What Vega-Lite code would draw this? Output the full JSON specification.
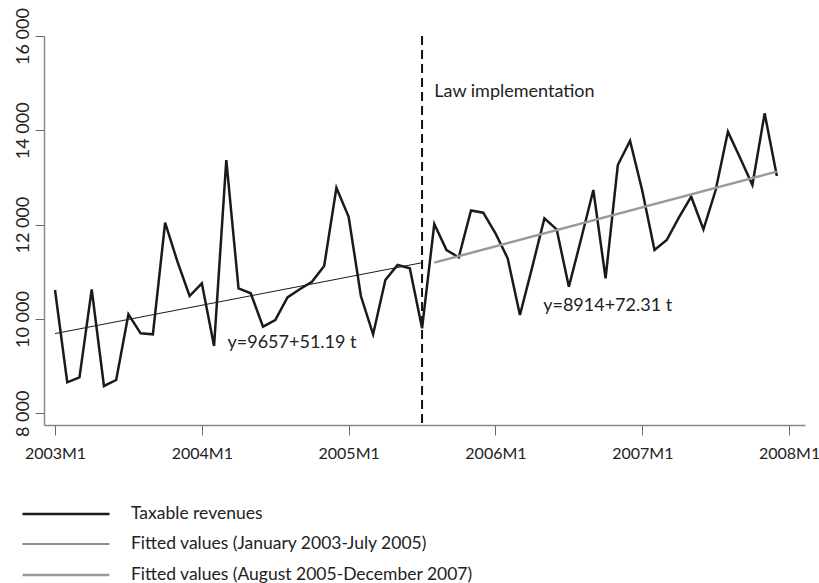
{
  "$schema": "https://vega.github.io/schema/vega-lite/v6.json",
  "width": 761,
  "height": 389,
  "autosize": {"type": "none"},
  "padding": {"left": 44, "top": 36, "right": 14, "bottom": 158},
  "background": "white",
  "config": {"font": "Lato", "view": {"stroke": null}},
  "datasets": {
    "lines": [
      {"t": 0, "value": 10614, "series": "Taxable revenues"},
      {"t": 1, "value": 8657, "series": "Taxable revenues"},
      {"t": 2, "value": 8763, "series": "Taxable revenues"},
      {"t": 3, "value": 10629, "series": "Taxable revenues"},
      {"t": 4, "value": 8579, "series": "Taxable revenues"},
      {"t": 5, "value": 8706, "series": "Taxable revenues"},
      {"t": 6, "value": 10099, "series": "Taxable revenues"},
      {"t": 7, "value": 9696, "series": "Taxable revenues"},
      {"t": 8, "value": 9675, "series": "Taxable revenues"},
      {"t": 9, "value": 12041, "series": "Taxable revenues"},
      {"t": 10, "value": 11222, "series": "Taxable revenues"},
      {"t": 11, "value": 10487, "series": "Taxable revenues"},
      {"t": 12, "value": 10756, "series": "Taxable revenues"},
      {"t": 13, "value": 9427, "series": "Taxable revenues"},
      {"t": 14, "value": 13370, "series": "Taxable revenues"},
      {"t": 15, "value": 10650, "series": "Taxable revenues"},
      {"t": 16, "value": 10544, "series": "Taxable revenues"},
      {"t": 17, "value": 9836, "series": "Taxable revenues"},
      {"t": 18, "value": 9978, "series": "Taxable revenues"},
      {"t": 19, "value": 10459, "series": "Taxable revenues"},
      {"t": 20, "value": 10629, "series": "Taxable revenues"},
      {"t": 21, "value": 10790, "series": "Taxable revenues"},
      {"t": 22, "value": 11123, "series": "Taxable revenues"},
      {"t": 23, "value": 12783, "series": "Taxable revenues"},
      {"t": 24, "value": 12168, "series": "Taxable revenues"},
      {"t": 25, "value": 10487, "series": "Taxable revenues"},
      {"t": 26, "value": 9675, "series": "Taxable revenues"},
      {"t": 27, "value": 10826, "series": "Taxable revenues"},
      {"t": 28, "value": 11144, "series": "Taxable revenues"},
      {"t": 29, "value": 11074, "series": "Taxable revenues"},
      {"t": 30, "value": 9802, "series": "Taxable revenues"},
      {"t": 31, "value": 12013, "series": "Taxable revenues"},
      {"t": 32, "value": 11462, "series": "Taxable revenues"},
      {"t": 33, "value": 11307, "series": "Taxable revenues"},
      {"t": 34, "value": 12302, "series": "Taxable revenues"},
      {"t": 35, "value": 12253, "series": "Taxable revenues"},
      {"t": 36, "value": 11817, "series": "Taxable revenues"},
      {"t": 37, "value": 11286, "series": "Taxable revenues"},
      {"t": 38, "value": 10084, "series": "Taxable revenues"},
      {"t": 39, "value": 11095, "series": "Taxable revenues"},
      {"t": 40, "value": 12134, "series": "Taxable revenues"},
      {"t": 41, "value": 11901, "series": "Taxable revenues"},
      {"t": 42, "value": 10684, "series": "Taxable revenues"},
      {"t": 43, "value": 11695, "series": "Taxable revenues"},
      {"t": 44, "value": 12734, "series": "Taxable revenues"},
      {"t": 45, "value": 10862, "series": "Taxable revenues"},
      {"t": 46, "value": 13264, "series": "Taxable revenues"},
      {"t": 47, "value": 13779, "series": "Taxable revenues"},
      {"t": 48, "value": 12720, "series": "Taxable revenues"},
      {"t": 49, "value": 11462, "series": "Taxable revenues"},
      {"t": 50, "value": 11674, "series": "Taxable revenues"},
      {"t": 51, "value": 12155, "series": "Taxable revenues"},
      {"t": 52, "value": 12592, "series": "Taxable revenues"},
      {"t": 53, "value": 11901, "series": "Taxable revenues"},
      {"t": 54, "value": 12734, "series": "Taxable revenues"},
      {"t": 55, "value": 13970, "series": "Taxable revenues"},
      {"t": 56, "value": 13412, "series": "Taxable revenues"},
      {"t": 57, "value": 12840, "series": "Taxable revenues"},
      {"t": 58, "value": 14360, "series": "Taxable revenues"},
      {"t": 59, "value": 13031, "series": "Taxable revenues"},
      {"t": 0, "value": 9690, "series": "Fitted values (January 2003-July 2005)"},
      {"t": 30, "value": 11193, "series": "Fitted values (January 2003-July 2005)"},
      {"t": 31, "value": 11195, "series": "Fitted values (August 2005-December 2007)"},
      {"t": 59, "value": 13125, "series": "Fitted values (August 2005-December 2007)"}
    ],
    "events": [{"t": 30}],
    "notes": [
      {"t": 31.0, "value": 14818, "label": "Law implementation"},
      {"t": 14.1, "value": 9490, "label": "y=9657+51.19 t"},
      {"t": 39.9, "value": 10275, "label": "y=8914+72.31 t"}
    ]
  },
  "layer": [
    {
      "data": {"name": "events"},
      "mark": {"type": "rule", "color": "#111111", "strokeWidth": 2, "strokeDash": [9, 5]},
      "encoding": {
        "x": {"field": "t", "type": "quantitative", "scale": {"domain": [-0.9, 61.3], "nice": false, "zero": false}}
      }
    },
    {
      "data": {"name": "lines"},
      "mark": {"type": "line", "strokeJoin": "miter"},
      "encoding": {
        "x": {
          "field": "t", "type": "quantitative",
          "scale": {"domain": [-0.9, 61.3], "nice": false, "zero": false},
          "axis": {
            "title": null,
            "values": [0, 12, 24, 36, 48, 60],
            "labelExpr": "(2003 + datum.value / 12) + 'M1'",
            "domainColor": "#888888", "domainWidth": 1.5,
            "tickColor": "#666666", "tickSize": 10, "tickWidth": 1,
            "labelFontSize": 16, "labelColor": "#222222", "labelPadding": 10,
            "labelFont": "Lato", "grid": false
          }
        },
        "y": {
          "field": "value", "type": "quantitative",
          "scale": {"domain": [7752, 16000], "nice": false, "zero": false},
          "axis": {
            "title": null,
            "values": [8000, 10000, 12000, 14000, 16000],
            "labelExpr": "replace(format(datum.value, ','), ',', ' ')",
            "labelAngle": -90, "labelAlign": "center", "labelBaseline": "bottom",
            "domainColor": "#888888", "domainWidth": 1.5,
            "tickColor": "#666666", "tickSize": 9, "tickWidth": 1,
            "labelFontSize": 18, "labelColor": "#222222", "labelPadding": 3,
            "labelFont": "Lato", "grid": false
          }
        },
        "color": {
          "field": "series", "type": "nominal",
          "scale": {
            "domain": ["Taxable revenues", "Fitted values (January 2003-July 2005)", "Fitted values (August 2005-December 2007)"],
            "range": ["#1a1a1a", "#1a1a1a", "#999999"]
          },
          "legend": {
            "title": null, "orient": "none", "legendX": 6, "legendY": 462,
            "symbolType": "M-3,0H3", "symbolSize": 841, "labelFontSize": 17.5,
            "symbolFillColor": "transparent",
            "labelColor": "#222222", "labelOffset": 49, "rowPadding": 6, "labelLimit": 500
          }
        },
        "strokeWidth": {
          "field": "series", "type": "nominal",
          "scale": {
            "type": "ordinal",
            "domain": ["Taxable revenues", "Fitted values (January 2003-July 2005)", "Fitted values (August 2005-December 2007)"],
            "range": [2.5, 1, 2.5]
          },
          "legend": null
        }
      }
    },
    {
      "data": {"name": "notes"},
      "mark": {"type": "text", "align": "left", "baseline": "middle", "fontSize": 18, "color": "#222222"},
      "encoding": {
        "x": {"field": "t", "type": "quantitative"},
        "y": {"field": "value", "type": "quantitative"},
        "text": {"field": "label"}
      }
    }
  ]
}
